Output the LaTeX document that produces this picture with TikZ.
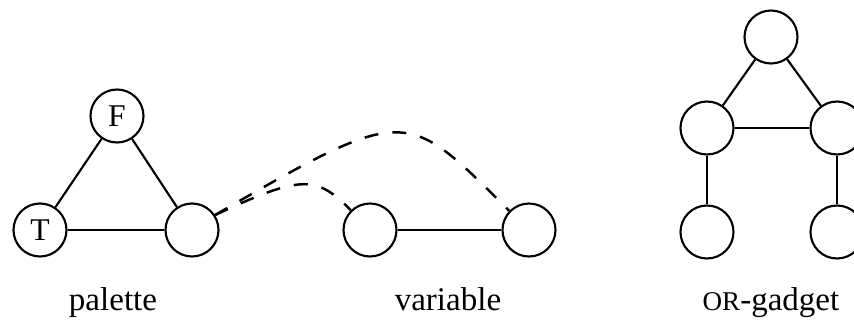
\documentclass[tikz,border=0pt]{standalone}
\usepackage{fontspec}
\setmainfont{Liberation Serif}
\usepackage{tikz}
\usetikzlibrary{positioning}

\tikzset{
    vtx/.style={circle, draw, line width=0.6pt, minimum size=0.53cm, inner sep=0pt,
        font=\fontsize{9}{10}\selectfont},
    gname/.style={anchor=base, font=\fontsize{9.4}{11}\selectfont},
    edge/.style={line width=0.6pt},
    dedge/.style={line width=0.7pt, dash pattern=on 4pt off 4pt}
}

\begin{document}
\begin{tikzpicture}
                    \useasboundingbox (0,0) rectangle (8.54,3.2);

                    % Palette triangle
                    \node[vtx] (palT) at (0.40,0.90) {T};
                    \node[vtx] (palF) at (1.17,2.04) {F};
                    \node[vtx] (palX) at (1.92,0.90) {};
                    \draw[edge] (palT) -- (palF);
                    \draw[edge] (palF) -- (palX);
                    \draw[edge] (palT) -- (palX);

                    % Variable pair
                    \node[vtx] (varA) at (3.70,0.90) {};
                    \node[vtx] (varB) at (5.29,0.90) {};
                    \draw[edge] (varA) -- (varB);

                    % Dashed links from palette to variable
                    \draw[dedge] (palX.33) .. controls +(25:0.97) and +(135:0.49) .. (varA.134);
                    \draw[dedge] (palX.33) .. controls +(30:2.22) and +(135:1.47) .. (varB.136);

                    % OR-gadget
                    \node[vtx] (orTop) at (7.71,2.83) {};
                    \node[vtx] (orL) at (7.07,1.92) {};
                    \node[vtx] (orR) at (8.37,1.92) {};
                    \node[vtx] (orLo) at (7.07,0.88) {};
                    \node[vtx] (orRo) at (8.37,0.88) {};
                    \draw[edge] (orTop) -- (orL);
                    \draw[edge] (orTop) -- (orR);
                    \draw[edge] (orL) -- (orR);
                    \draw[edge] (orL) -- (orLo);
                    \draw[edge] (orR) -- (orRo);

                    % Names below
                    \node[gname] (palName) at (1.13,0.10) {palette};
                    \node[gname] (varName) at (4.48,0.10) {variable};
                    \node[gname] (orName) at (7.71,0.10) {{\fontsize{7.7}{9}\selectfont OR}-gadget};
                \end{tikzpicture}
\end{document}
